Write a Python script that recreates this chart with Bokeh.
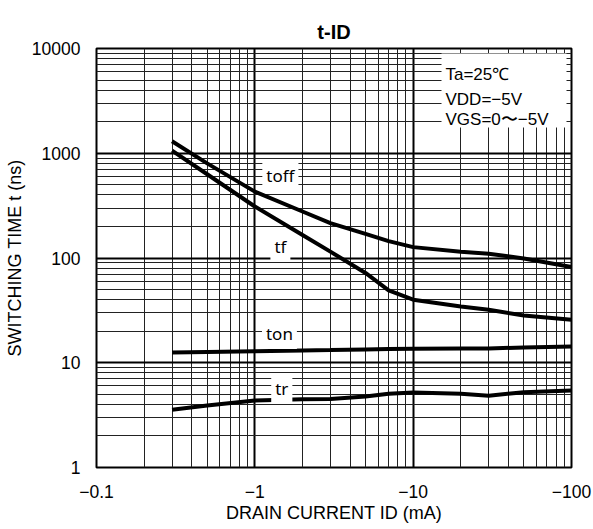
from bokeh.plotting import figure
from bokeh.models import FixedTicker, Label, BoxAnnotation
from bokeh.embed import file_html
from bokeh.resources import INLINE

# ---- data (drain current in mA, absolute value; switching time in ns) ----
id_ma = [0.3, 0.5, 1, 2, 3, 5, 7, 10, 20, 30, 50, 100]
t_off = [1300, 800, 430, 278, 215, 170, 145, 127, 115, 110, 99, 82]
t_f = [1060, 630, 310, 166, 115, 72, 49, 40, 34.4, 32, 28.3, 25.7]
t_on = [12.5, 12.7, 12.9, 13.1, 13.2, 13.4, 13.5, 13.6, 13.7, 13.7, 14.0, 14.3]
t_r = [3.56, 3.91, 4.36, 4.49, 4.51, 4.76, 5.06, 5.2, 5.06, 4.85, 5.24, 5.43]

x_decades = [0.1, 1, 10, 100]
x_tick_labels = ["\u22120.1", "\u22121", "\u221210", "\u2212100"]
y_decades = [1, 10, 100, 1000, 10000]
y_tick_labels = ["1", "10", "100", "1000", "10000"]

conditions = ["Ta=25\u2103", "VDD=\u22125V", "VGS=0\u301c\u22125V"]

SANS = "Liberation Sans"

p = figure(width=593, height=529, x_axis_type="log", y_axis_type="log",
           x_range=(0.1, 100), y_range=(1, 10000),
           output_backend="svg", toolbar_location=None,
           min_border_left=96, min_border_right=22,
           min_border_top=48, min_border_bottom=62,
           title="t-ID")
p.title.align = "center"
p.title.text_font = SANS
p.title.text_font_style = "bold"
p.title.text_font_size = "20px"
p.title.text_color = "black"
p.title.standoff = 11

def minors(decs):
    out = []
    for d in decs[:-1]:
        for k in range(2, 10):
            out.append(k * d)
    return out

p.xaxis.ticker = FixedTicker(ticks=x_decades, minor_ticks=minors(x_decades))
p.yaxis.ticker = FixedTicker(ticks=y_decades, minor_ticks=minors(y_decades))
p.xaxis.major_label_overrides = dict(zip(x_decades, x_tick_labels))
p.yaxis.major_label_overrides = dict(zip(y_decades, y_tick_labels))

for ax in (p.xaxis[0], p.yaxis[0]):
    ax.axis_line_color = None
    ax.major_tick_line_color = None
    ax.minor_tick_line_color = None
    ax.major_tick_out = 0
    ax.minor_tick_out = 0
    ax.major_tick_in = 0
    ax.minor_tick_in = 0
    ax.major_label_text_font = SANS
    ax.major_label_text_font_size = "17.5px"
    ax.major_label_text_color = "black"
    ax.axis_label_text_font = SANS
    ax.axis_label_text_font_size = "18px"
    ax.axis_label_text_font_style = "normal"
    ax.axis_label_text_color = "black"

p.xaxis.axis_label = "DRAIN CURRENT ID (mA)"
p.yaxis.axis_label = "SWITCHING TIME t (ns)"
p.xaxis.major_label_standoff = 17
p.xaxis.axis_label_standoff = 2
p.yaxis.major_label_standoff = 16
p.yaxis.axis_label_standoff = 4

for g in (p.xgrid[0], p.ygrid[0]):
    g.grid_line_color = "black"
    g.grid_line_width = 2
    g.grid_line_alpha = 1
    g.minor_grid_line_color = "#222222"
    g.minor_grid_line_width = 1

p.outline_line_color = "black"
p.outline_line_width = 2
p.background_fill_color = "white"

for ys in (t_off, t_f, t_on, t_r):
    p.line(id_ma, ys, line_color="black", line_width=4)

# condition box
p.add_layout(BoxAnnotation(left=15.1, right=93, bottom=1762, top=8960,
                           fill_color="white", fill_alpha=1, line_color=None))
for txt, yy in zip(conditions, [5700, 3260, 2085]):
    p.add_layout(Label(x=16.0, y=yy, text=txt, text_font=SANS,
                       text_font_size="17px", text_color="black",
                       text_align="left", text_baseline="middle"))

curve_names = ["toff", "tf", "ton", "tr"]
name_pos = [(1.45, 614), (1.45, 129), (1.43, 19.0), (1.48, 5.68)]
for nm, (xx, yy) in zip(curve_names, name_pos):
    p.add_layout(Label(x=xx, y=yy, text=nm, text_font="Noto Sans",
                       text_font_size="17px", text_color="black",
                       text_align="center", text_baseline="middle",
                       background_fill_color="white", background_fill_alpha=1,
                       padding=4))

open("out.html", "w").write(file_html(p, INLINE))
